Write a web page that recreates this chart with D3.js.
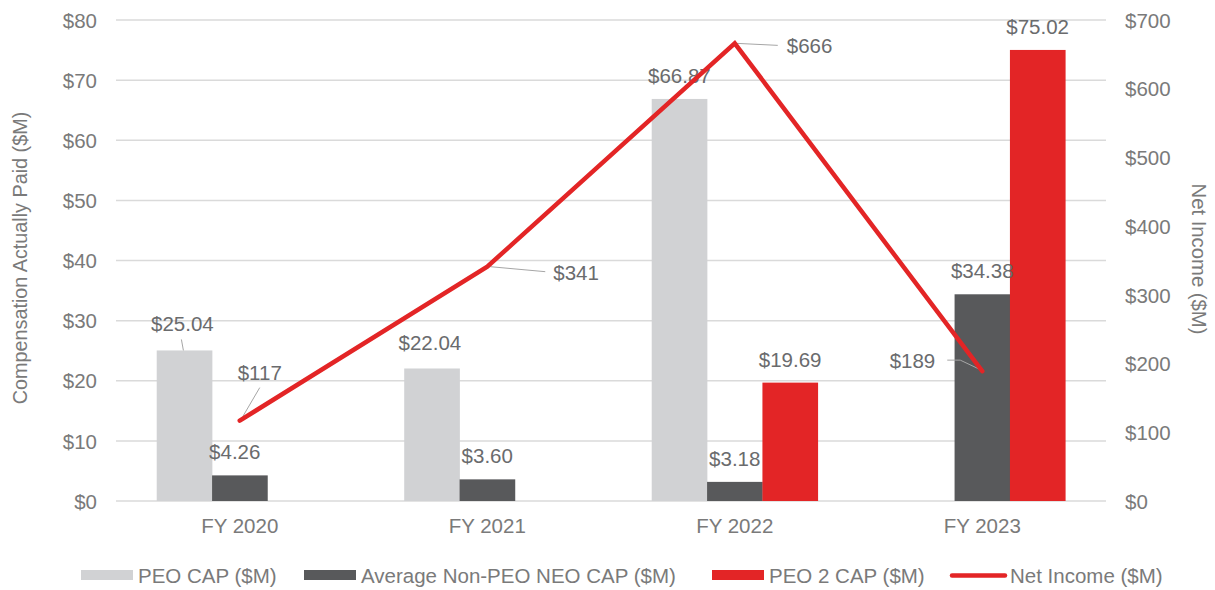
<!DOCTYPE html>
<html>
<head>
<meta charset="utf-8">
<script src="https://cdn.jsdelivr.net/npm/d3@7"></script>
<style>
  html, body { margin: 0; padding: 0; background: #fff; }
  svg { display: block; font-family: "Liberation Sans", Arial, Helvetica, sans-serif; }
</style>
</head>
<body>
<svg id="chart" width="1215" height="590"></svg>
<script>
// ---- data ----
const categories = ["FY 2020", "FY 2021", "FY 2022", "FY 2023"];
const peoCap = [25.04, 22.04, 66.87, null];
const avgNonPeoCap = [4.26, 3.60, 3.18, 34.38];
const peo2Cap = [null, null, 19.69, 75.02];
const netIncome = [117, 341, 666, 189];
const leftTicks = [0, 10, 20, 30, 40, 50, 60, 70, 80];
const rightTicks = [0, 100, 200, 300, 400, 500, 600, 700];
const seriesNames = ["PEO CAP ($M)", "Average Non-PEO NEO CAP ($M)", "PEO 2 CAP ($M)", "Net Income ($M)"];

// ---- style ----
const colors = { peo: "#d1d2d4", avg: "#58595b", peo2: "#e32526", line: "#e32526" };
const tickColor = "#7a7a7a";
const labelColor = "#6a6b6d";
const fontSize = 20.5;

const svg = d3.select("#chart");
const plot = { left: 116, right: 1106, top: 20, bottom: 501 };

const x = d3.scaleBand().domain(categories).range([plot.left, plot.right]).paddingInner(0).paddingOuter(0);
const yL = d3.scaleLinear().domain([0, 80]).range([plot.bottom, plot.top]);
const yR = d3.scaleLinear().domain([0, 700]).range([plot.bottom, plot.top]);

const groupW = x.bandwidth() * 0.671;
const barKeys = ["peo", "avg", "peo2"];
const xs = d3.scaleBand().domain(barKeys).range([0, groupW]).padding(0);
const groupOffset = (x.bandwidth() - groupW) / 2;

// gridlines
svg.append("g").selectAll("line").data(leftTicks).join("line")
  .attr("x1", plot.left).attr("x2", plot.right)
  .attr("y1", d => yL(d)).attr("y2", d => yL(d))
  .attr("stroke", "#dadada").attr("stroke-width", 1.5);

// left axis
const leftAxis = d3.axisLeft(yL).tickValues(leftTicks).tickFormat(d => "$" + d).tickSize(0).tickPadding(0);
const gL = svg.append("g").attr("transform", `translate(${plot.left - 19},0)`).call(leftAxis);
gL.select(".domain").remove();
gL.selectAll("text").attr("fill", tickColor).style("font-size", fontSize + "px").attr("dy", "0.35em");

// right axis
const rightAxis = d3.axisRight(yR).tickValues(rightTicks).tickFormat(d => "$" + d).tickSize(0).tickPadding(0);
const gR = svg.append("g").attr("transform", `translate(${plot.right + 19},0)`).call(rightAxis);
gR.select(".domain").remove();
gR.selectAll("text").attr("fill", tickColor).style("font-size", fontSize + "px").attr("dy", "0.35em");

// bottom axis
const bottomAxis = d3.axisBottom(x).tickSize(0).tickPadding(0);
const gB = svg.append("g").attr("transform", `translate(0,${plot.bottom + 17})`).call(bottomAxis);
gB.select(".domain").remove();
gB.selectAll("text").attr("fill", tickColor).style("font-size", fontSize + "px").attr("dy", "0.75em");

// axis titles
svg.append("text").attr("transform", `translate(27,258) rotate(-90)`)
  .attr("text-anchor", "middle").attr("fill", tickColor).style("font-size", "19.8px")
  .text("Compensation Actually Paid ($M)");
svg.append("text").attr("transform", `translate(1192,259) rotate(90)`)
  .attr("text-anchor", "middle").attr("fill", tickColor).style("font-size", "20.3px")
  .text("Net Income ($M)");

// bars
const seriesArr = { peo: peoCap, avg: avgNonPeoCap, peo2: peo2Cap };
const barData = [];
barKeys.forEach(k => {
  categories.forEach((c, i) => {
    const v = seriesArr[k][i];
    if (v != null) barData.push({ key: k, cat: c, v });
  });
});
const barX = d => x(d.cat) + groupOffset + xs(d.key);
svg.append("g").selectAll("rect").data(barData).join("rect")
  .attr("x", barX).attr("width", xs.bandwidth() + 0.3)
  .attr("y", d => yL(d.v)).attr("height", d => yL(0) - yL(d.v))
  .attr("fill", d => colors[d.key]);

// bar labels (offsets for manually-moved labels)
const barLabelShift = { "peo|FY 2020": { dx: -2, dy: -3 }, "peo|FY 2021": { dx: -2, dy: -2 }, "avg|FY 2020": { dx: -5, dy: 0 } };
svg.append("g").selectAll("text").data(barData).join("text")
  .attr("x", d => barX(d) + xs.bandwidth() / 2 + ((barLabelShift[d.key + "|" + d.cat] || {}).dx || 0))
  .attr("y", d => yL(d.v) - 16 + ((barLabelShift[d.key + "|" + d.cat] || {}).dy || 0))
  .attr("text-anchor", "middle").attr("fill", labelColor).style("font-size", fontSize + "px")
  .text(d => "$" + d.v.toFixed(2));

// leader for $25.04
{
  const bx = barX({ key: "peo", cat: "FY 2020" }) + xs.bandwidth() / 2;
  const top = yL(peoCap[0]);
  svg.append("line").attr("x1", bx - 3).attr("y1", top - 11).attr("x2", bx - 1).attr("y2", top)
    .attr("stroke", "#a6a6a6").attr("stroke-width", 1);
}

// net income line
const cx = c => x(c) + x.bandwidth() / 2;
const lineData = categories.map((c, i) => ({ c, v: netIncome[i] }));

// line labels with leader lines
const lineLabelPos = [
  { dx: 20, dy: -41, anchor: "middle", lead: [[3, -4], [20, -33]] },
  { dx: 66, dy: 13, anchor: "start", lead: [[3, 0], [58, 5]] },
  { dx: 52, dy: 10, anchor: "start", lead: [[2, 0], [43, 2]] },
  { dx: -47, dy: -3, anchor: "end", lead: [[-3, -2], [-22, -11], [-27, -11], [-35, -11]] }
];
lineData.forEach((d, i) => {
  const p = lineLabelPos[i];
  const px = cx(d.c), py = yR(d.v);
  svg.append("path")
    .attr("d", d3.line()(p.lead.map(q => [px + q[0], py + q[1]])))
    .attr("fill", "none").attr("stroke", "#a6a6a6").attr("stroke-width", 1);
  svg.append("text").attr("x", px + p.dx).attr("y", py + p.dy)
    .attr("text-anchor", p.anchor).attr("fill", labelColor).style("font-size", fontSize + "px")
    .text("$" + d.v);
});
svg.append("path").datum(lineData)
  .attr("d", d3.line().x(d => cx(d.c)).y(d => yR(d.v)))
  .attr("fill", "none").attr("stroke", colors.line).attr("stroke-width", 4.5)
  .attr("stroke-linejoin", "miter").attr("stroke-linecap", "round");

// legend
const legendItems = [
  { name: seriesNames[0], color: colors.peo, type: "rect", x: 81 },
  { name: seriesNames[1], color: colors.avg, type: "rect", x: 304 },
  { name: seriesNames[2], color: colors.peo2, type: "rect", x: 712 },
  { name: seriesNames[3], color: colors.line, type: "line", x: 952 }
];
const lg = svg.append("g");
legendItems.forEach(it => {
  if (it.type === "rect") {
    lg.append("rect").attr("x", it.x).attr("y", 570).attr("width", 52).attr("height", 10).attr("fill", it.color);
  } else {
    lg.append("line").attr("x1", it.x).attr("x2", it.x + 53).attr("y1", 575.5).attr("y2", 575.5)
      .attr("stroke", it.color).attr("stroke-width", 4.5).attr("stroke-linecap", "round");
  }
  lg.append("text").attr("x", it.x + (it.type === "rect" ? 57 : 58)).attr("y", 582.5)
    .attr("fill", tickColor).style("font-size", fontSize + "px").text(it.name);
});
</script>
</body>
</html>
